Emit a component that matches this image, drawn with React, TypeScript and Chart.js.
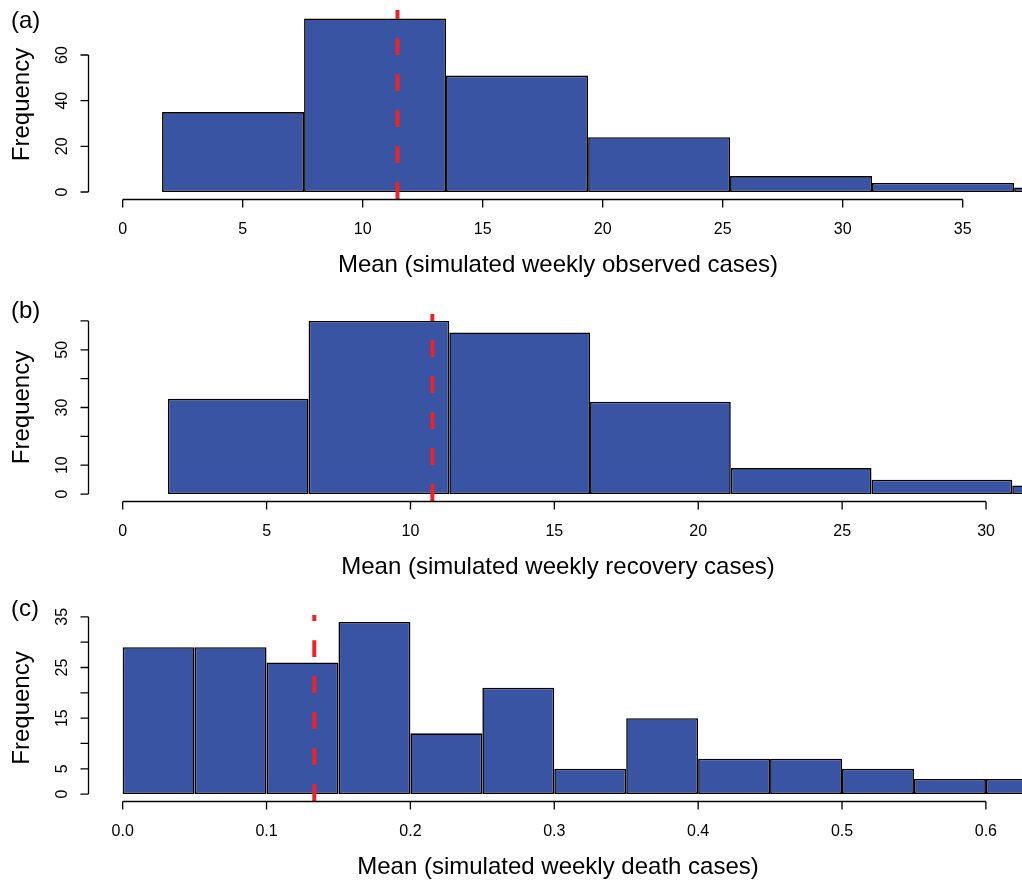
import React, { useEffect, useRef } from "react";
import { Chart, registerables } from "chart.js";

Chart.register(...registerables);

// ---------- Panel (a): observed cases ----------
const obsBreaks = [1.64, 7.56, 13.47, 19.39, 25.31, 31.22, 37.14, 43.06];
const obsCounts = [35, 76, 51, 24, 7, 4, 2];
const obsMean = 11.45;
const obsXTicks = [0, 5, 10, 15, 20, 25, 30, 35];
const obsXLabels = ["0", "5", "10", "15", "20", "25", "30", "35"];
const obsYTicks = [0, 20, 40, 60];
const obsYLabels = ["0", "20", "40", "60"];

// ---------- Panel (b): recovery cases ----------
const recBreaks = [1.57, 6.46, 11.35, 16.24, 21.13, 26.02, 30.91, 35.8];
const recCounts = [33, 60, 56, 32, 9, 5, 3];
const recMean = 10.76;
const recXTicks = [0, 5, 10, 15, 20, 25, 30];
const recXLabels = ["0", "5", "10", "15", "20", "25", "30"];
const recYTicks = [0, 10, 20, 30, 40, 50, 60];
const recYLabels = ["0", "10", "", "30", "", "50", ""];

// ---------- Panel (c): death cases ----------
const deathBreaks = [0, 0.05, 0.1, 0.15, 0.2, 0.25, 0.3, 0.35, 0.4, 0.45, 0.5, 0.55, 0.6, 0.65];
const deathCounts = [29, 29, 26, 34, 12, 21, 5, 15, 7, 7, 5, 3, 3];
const deathMean = 0.1332;
const deathXTicks = [0, 0.1, 0.2, 0.3, 0.4, 0.5, 0.6];
const deathXLabels = ["0.0", "0.1", "0.2", "0.3", "0.4", "0.5", "0.6"];
const deathYTicks = [0, 5, 10, 15, 20, 25, 30, 35];
const deathYLabels = ["0", "5", "", "15", "", "25", "", "35"];

const FONT = '"Liberation Sans", Arial, Helvetica, sans-serif';
const BAR_FILL = "#3A54A4";
const MEAN_COLOR = "#EE2229";

type Panel = {
  letter: string;
  letterY: number;
  title: string;
  breaks: number[];
  counts: number[];
  mean: number;
  xTicks: number[];
  xLabels: string[];
  yTicks: number[];
  yLabels: string[];
  top: number;
  height: number;
  areaTop: number;
  areaBottom: number;
  xMin: number;
  xMax: number;
  yMin: number;
  yMax: number;
};

const panels: Panel[] = [
  {
    letter: "(a)", letterY: 21, title: "Mean (simulated weekly observed cases)",
    breaks: obsBreaks, counts: obsCounts, mean: obsMean,
    xTicks: obsXTicks, xLabels: obsXLabels, yTicks: obsYTicks, yLabels: obsYLabels,
    top: 0, height: 300, areaTop: 10, areaBottom: 199,
    xMin: -1.404, xMax: 37.47, yMin: -3.06, yMax: 79.7,
  },
  {
    letter: "(b)", letterY: 11, title: "Mean (simulated weekly recovery cases)",
    breaks: recBreaks, counts: recCounts, mean: recMean,
    xTicks: recXTicks, xLabels: recXLabels, yTicks: recYTicks, yLabels: recYLabels,
    top: 300, height: 300, areaTop: 14, areaBottom: 201,
    xMin: -1.171, xMax: 31.25, yMin: -2.4, yMax: 62.4,
  },
  {
    letter: "(c)", letterY: 9, title: "Mean (simulated weekly death cases)",
    breaks: deathBreaks, counts: deathCounts, mean: deathMean,
    xTicks: deathXTicks, xLabels: deathXLabels, yTicks: deathYTicks, yLabels: deathYLabels,
    top: 600, height: 280, areaTop: 15, areaBottom: 201,
    xMin: -0.0234, xMax: 0.6251, yMin: -1.36, yMax: 35.36,
  },
];

function makeAxesPlugin(p: Panel) {
  return {
    id: "rAxes",
    afterDraw(chart: any) {
      const ctx: CanvasRenderingContext2D = chart.ctx;
      const xs = chart.scales.x;
      const ys = chart.scales.y;
      const area = chart.chartArea;
      ctx.save();
      ctx.strokeStyle = "#000";
      ctx.fillStyle = "#000";
      ctx.lineWidth = 1.3;

      // x axis
      const ay = area.bottom + 0.5;
      const x0 = xs.getPixelForValue(p.xTicks[0]);
      const x1 = xs.getPixelForValue(p.xTicks[p.xTicks.length - 1]);
      ctx.beginPath();
      ctx.moveTo(x0, ay);
      ctx.lineTo(x1, ay);
      p.xTicks.forEach((t) => {
        const px = xs.getPixelForValue(t);
        ctx.moveTo(px, ay);
        ctx.lineTo(px, ay + 8);
      });
      ctx.stroke();
      ctx.font = `16px ${FONT}`;
      ctx.textAlign = "center";
      ctx.textBaseline = "alphabetic";
      p.xTicks.forEach((t, i) => {
        const lab = p.xLabels[i];
        if (lab) ctx.fillText(lab, xs.getPixelForValue(t), area.bottom + 34.5);
      });

      // y axis
      const ax = area.left - 0.5;
      const y0 = ys.getPixelForValue(p.yTicks[0]);
      const y1 = ys.getPixelForValue(p.yTicks[p.yTicks.length - 1]);
      ctx.beginPath();
      ctx.moveTo(ax, y0);
      ctx.lineTo(ax, y1);
      p.yTicks.forEach((t) => {
        const py = ys.getPixelForValue(t);
        ctx.moveTo(ax, py);
        ctx.lineTo(ax - 8, py);
      });
      ctx.stroke();
      p.yTicks.forEach((t, i) => {
        const lab = p.yLabels[i];
        if (!lab) return;
        ctx.save();
        ctx.translate(66.5, ys.getPixelForValue(t));
        ctx.rotate(-Math.PI / 2);
        ctx.textAlign = "center";
        ctx.textBaseline = "alphabetic";
        ctx.fillText(lab, 0, 0);
        ctx.restore();
      });

      // titles
      ctx.font = `24px ${FONT}`;
      ctx.textAlign = "center";
      ctx.textBaseline = "middle";
      ctx.fillText(p.title, 558, area.bottom + 66);
      ctx.save();
      ctx.translate(22, (area.top + area.bottom) / 2);
      ctx.rotate(-Math.PI / 2);
      ctx.fillText("Frequency", 0, 0);
      ctx.restore();
      ctx.textAlign = "left";
      ctx.fillText(p.letter, 11, p.letterY);
      ctx.restore();
    },
  };
}

function HistPanel({ p }: { p: Panel }) {
  const ref = useRef<HTMLCanvasElement | null>(null);
  useEffect(() => {
    if (!ref.current) return;
    const barData = p.counts.map((c, i) => ({
      x: (p.breaks[i] + p.breaks[i + 1]) / 2,
      y: c,
    }));
    const meanData = [
      { x: p.mean, y: p.yMin },
      { x: p.mean, y: p.yMax },
    ];
    const chart = new Chart(ref.current, {
      type: "bar",
      data: {
        datasets: [
          {
            type: "line",
            data: meanData,
            borderColor: MEAN_COLOR,
            borderWidth: 4,
            borderDash: [16.7, 19.3],
            pointRadius: 0,
            fill: false,
            order: 0,
            clip: 0,
          } as any,
          {
            type: "bar",
            data: barData,
            backgroundColor: BAR_FILL,
            borderColor: "#000",
            borderWidth: 1.6,
            borderSkipped: false,
            barPercentage: 1,
            categoryPercentage: 1,
            inflateAmount: 0,
            order: 1,
            clip: 0,
          } as any,
        ],
      },
      options: {
        animation: false,
        responsive: false,
        devicePixelRatio: 1,
        layout: {
          padding: {
            left: 89,
            right: 0,
            top: p.areaTop,
            bottom: p.height - p.areaBottom,
          },
        },
        plugins: {
          legend: { display: false },
          tooltip: { enabled: false },
          title: { display: false },
        },
        events: [],
        scales: {
          x: {
            type: "linear",
            min: p.xMin,
            max: p.xMax,
            offset: false,
            display: false,
            afterBuildTicks: (s: any) => {
              s.ticks = [{ value: s.min }, { value: s.max }];
            },
          },
          y: {
            type: "linear",
            min: p.yMin,
            max: p.yMax,
            display: false,
          },
        },
      } as any,
      plugins: [makeAxesPlugin(p)],
    });
    return () => chart.destroy();
  }, [p]);
  return (
    <canvas
      ref={ref}
      width={1022}
      height={p.height}
      style={{ position: "absolute", left: 0, top: p.top, width: 1022, height: p.height }}
    />
  );
}

export default function App() {
  return (
    <div
      style={{
        position: "absolute",
        left: 0,
        top: 0,
        width: 1022,
        height: 880,
        background: "#fff",
        overflow: "hidden",
      }}
    >
      {panels.map((p) => (
        <HistPanel key={p.letter} p={p} />
      ))}
    </div>
  );
}
